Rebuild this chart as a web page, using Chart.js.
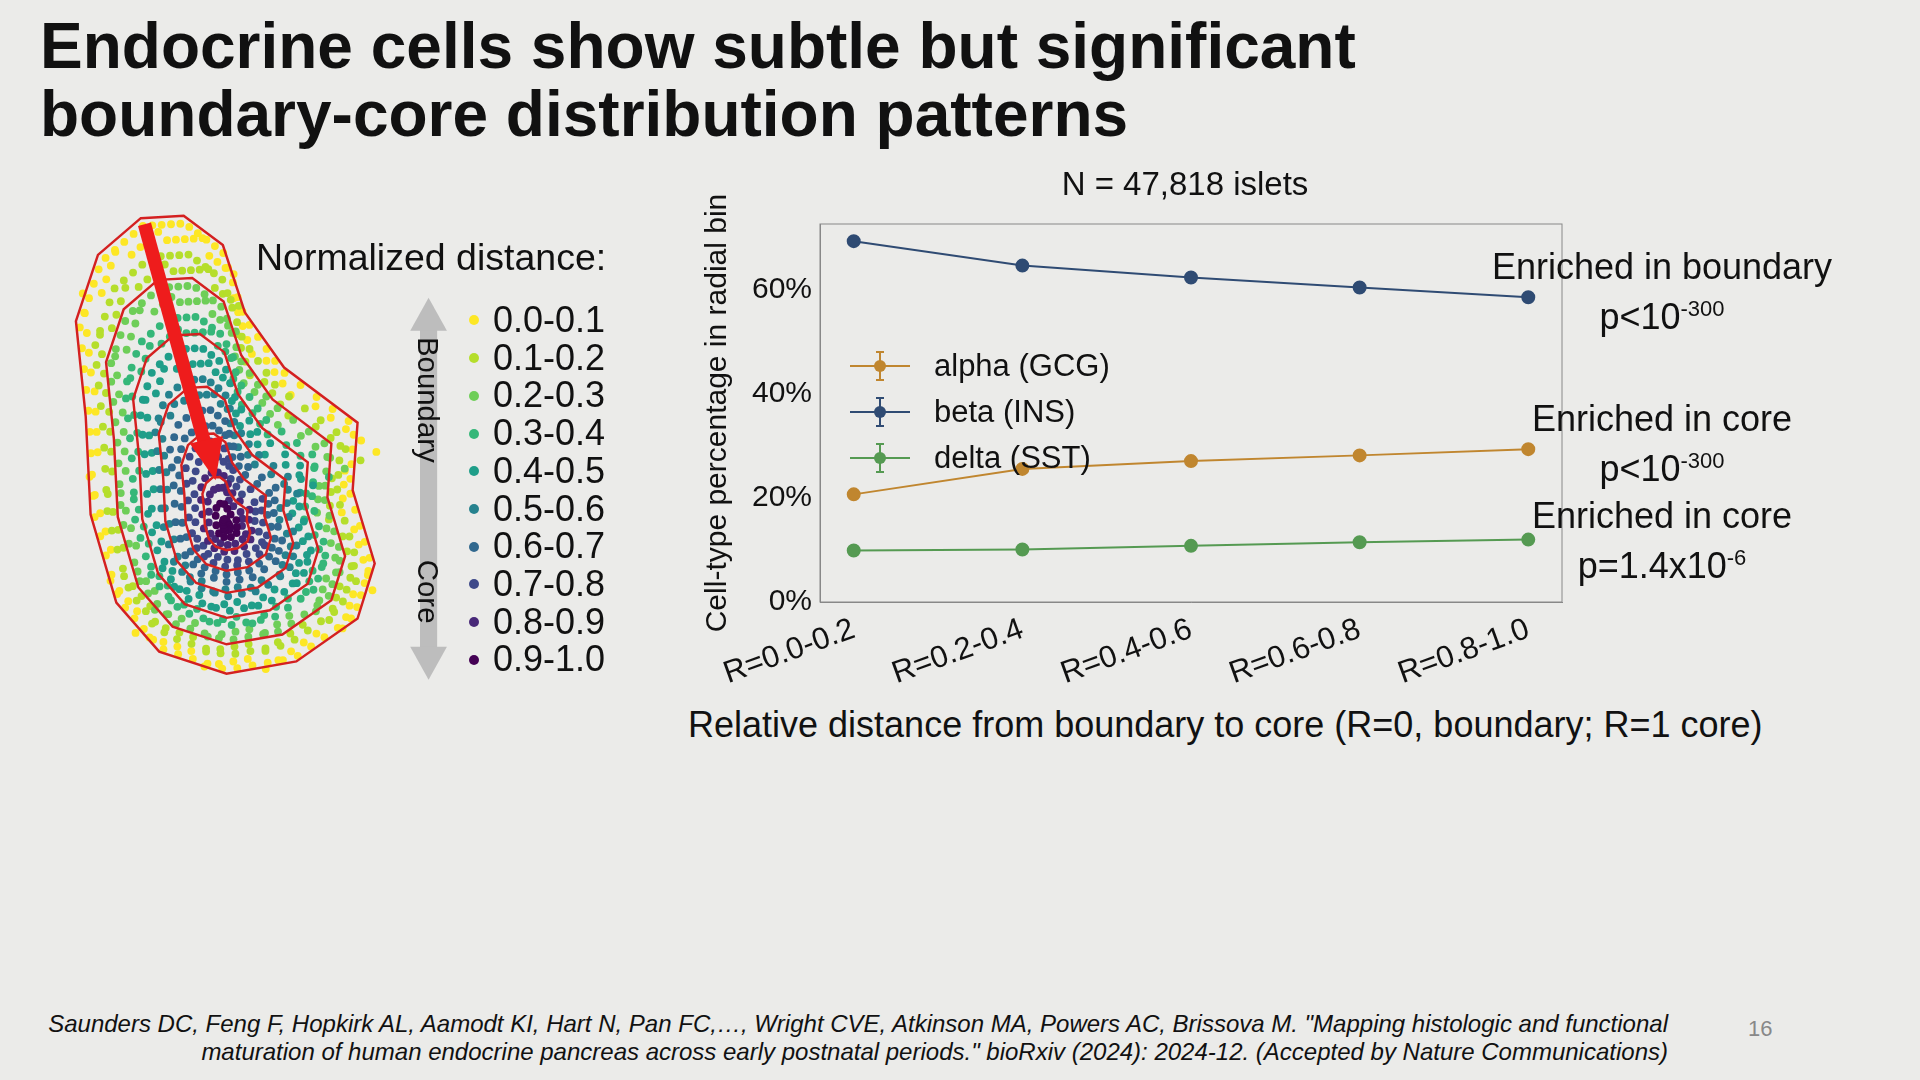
<!DOCTYPE html>
<html>
<head>
<meta charset="utf-8">
<script src="https://cdn.jsdelivr.net/npm/chart.js@4/dist/chart.umd.min.js"></script>
<style>
  body { margin: 0; width: 1920px; height: 1080px; background: #ebebe9; font-family: Arial, "Liberation Sans", sans-serif; color: #111; position: relative; overflow: hidden; }
  .abs { position: absolute; }
  h1 { position: absolute; left: 40px; top: 12px; margin: 0; font-size: 64px; line-height: 68px; font-weight: bold; }
  .ann { position: absolute; font-size: 36px; text-align: center; width: 400px; line-height: 42px; }
  .ann sup { font-size: 22px; }
  .leg { position: absolute; left: 850px; top: 343px; font-size: 31px; }
  .leg div { height: 46px; display: flex; align-items: center; }
  .leg canvas { margin-right: 24px; }
  .dist { position: absolute; left: 489px; font-size: 36px; line-height: 37.7px; }
  .foot { position: absolute; right: 252px; top: 1010px; font-size: 24px; font-style: italic; text-align: right; line-height: 28px; }
</style>
</head>
<body>
<h1>Endocrine cells show subtle but significant<br>boundary-core distribution patterns</h1>

<canvas id="islet" class="abs" width="480" height="700" style="left:0;top:190px"></canvas>
<div class="abs" style="left:256px;top:236px;font-size:37.5px">Normalized distance:</div>
<div id="dist" class="dist" style="top:301px"></div>

<div class="abs" style="left:0;top:165px;width:2370px;text-align:center;font-size:33px">N = 47,818 islets</div>
<div class="abs" style="left:700px;top:170px;width:870px;height:515px"><canvas id="chartDist"></canvas></div>
<div class="abs" style="left:688px;top:704px;font-size:36px">Relative distance from boundary to core (R=0, boundary; R=1 core)</div>
<div id="legend" class="leg"></div>

<div class="ann" style="left:1462px;top:246px">Enriched in boundary<br>p&lt;10<sup>-300</sup></div>
<div class="ann" style="left:1462px;top:398px">Enriched in core<br>p&lt;10<sup>-300</sup></div>
<div class="ann" style="left:1462px;top:495px">Enriched in core<br>p=1.4x10<sup>-6</sup></div>

<div class="foot">Saunders DC, Feng F, Hopkirk AL, Aamodt KI, Hart N, Pan FC,…, Wright CVE, Atkinson MA, Powers AC, Brissova M. "Mapping histologic and functional<br>maturation of human endocrine pancreas across early postnatal periods." bioRxiv (2024): 2024-12. (Accepted by Nature Communications)</div>
<div class="abs" style="left:1748px;top:1016px;font-size:22px;color:#888">16</div>

<script>
// chart data
const binLabels = ['R=0.0-0.2', 'R=0.2-0.4', 'R=0.4-0.6', 'R=0.6-0.8', 'R=0.8-1.0'];
const alphaPct = [20.7, 25.6, 27.1, 28.2, 29.4];
const betaPct = [69.4, 64.7, 62.4, 60.5, 58.6];
const deltaPct = [9.9, 10.1, 10.8, 11.5, 12.0];
const yTicks = [0, 20, 40, 60];

const distBins = ['0.0-0.1', '0.1-0.2', '0.2-0.3', '0.3-0.4', '0.4-0.5', '0.5-0.6', '0.6-0.7', '0.7-0.8', '0.8-0.9', '0.9-1.0'];
const viridis = ['#fde725', '#b5de2b', '#6ece58', '#35b779', '#1f9e89', '#26828e', '#31688e', '#3e4989', '#482878', '#440154'];

const seriesNames = ['alpha (GCG)', 'beta (INS)', 'delta (SST)'];
const seriesColors = ['#c0862f', '#2f4b73', '#559a52'];
const seriesData = [alphaPct, betaPct, deltaPct];

function toPoints(arr) { return arr.map((v, i) => ({ x: i, y: v })); }

function initChart() {
    const ctx = document.getElementById('chartDist');
    new Chart(ctx, {
        type: 'line',
        data: {
            datasets: seriesNames.map((name, k) => ({
                label: name,
                data: toPoints(seriesData[k]),
                borderColor: seriesColors[k],
                backgroundColor: seriesColors[k],
                borderWidth: 2,
                pointRadius: 6,
                pointHoverRadius: 6
            }))
        },
        options: {
            responsive: true,
            maintainAspectRatio: false,
            animation: false,
            layout: { padding: { top: 54, right: 8 } },
            plugins: { legend: { display: false }, tooltip: { enabled: false } },
            scales: {
                x: {
                    type: 'linear', min: -0.2, max: 4.2,
                    afterBuildTicks: s => { s.ticks = binLabels.map((_, i) => ({ value: i })); },
                    afterFit: s => { s.height = 83; },
                    grid: { display: false, drawTicks: true, tickLength: 6, tickColor: '#555' },
                    border: { color: '#888' },
                    ticks: { color: '#111', font: { size: 31 }, minRotation: 20, maxRotation: 20, callback: v => binLabels[v] }
                },
                y: {
                    min: 0, max: 72.7,
                    afterBuildTicks: s => { s.ticks = yTicks.map(v => ({ value: v })); },
                    afterFit: s => { s.width = 120; },
                    grid: { display: false, tickLength: 6, tickColor: '#555' },
                    border: { color: '#888' },
                    title: { display: true, text: 'Cell-type percentage in radial bin', color: '#111', font: { size: 30 }, padding: 0 },
                    ticks: { color: '#111', font: { size: 30 }, padding: 2, callback: v => v + '%' }
                }
            }
        },
        plugins: [{
            id: 'frame',
            afterDraw(c) {
                const a = c.chartArea, g = c.ctx;
                g.save(); g.strokeStyle = '#888'; g.lineWidth = 1;
                g.strokeRect(a.left, a.top, a.right - a.left, a.bottom - a.top);
                g.restore();
            }
        }]
    });
}

function initLegends() {
    const leg = document.getElementById('legend');
    seriesNames.forEach((name, k) => {
        const row = document.createElement('div');
        const c = document.createElement('canvas');
        c.width = 60; c.height = 40;
        const g = c.getContext('2d');
        g.strokeStyle = g.fillStyle = seriesColors[k]; g.lineWidth = 2;
        g.beginPath(); g.moveTo(0, 20); g.lineTo(60, 20); g.moveTo(30, 6); g.lineTo(30, 34);
        g.moveTo(26, 6); g.lineTo(34, 6); g.moveTo(26, 34); g.lineTo(34, 34); g.stroke();
        g.beginPath(); g.arc(30, 20, 6, 0, Math.PI * 2); g.fill();
        row.appendChild(c);
        row.appendChild(document.createTextNode(name));
        leg.appendChild(row);
    });
    const dist = document.getElementById('dist');
    distBins.forEach((b, i) => {
        const d = document.createElement('div');
        d.innerHTML = '<span style="display:inline-block;width:10px;height:10px;border-radius:5px;background:' + viridis[i] + ';margin:0 14px 4px -20px;vertical-align:middle"></span>' + b;
        dist.appendChild(d);
    });
}

// decorative islet sketch with grey boundary/core arrow
function drawIslet() {
    const c = document.getElementById('islet'), g = c.getContext('2d');
    const s = 1.2245;
    g.scale(s, s); g.translate(0, -155);
    const outline = [[115,178],[150,176],[182,200],[200,255],[232,300],[292,345],[288,400],[306,460],[292,505],[242,540],[185,550],[130,532],[95,492],[74,420],[70,340],[62,262],[80,208]];
    const cx = 185, cy = 430;
    for (let r = 0; r < 10; r++) {
        const f = 1 - r * 0.1;
        g.fillStyle = viridis[r];
        const n = Math.round(70 * f) + 6;
        for (let j = 0; j < n; j++) {
            const t = j / n * outline.length;
            const i0 = Math.floor(t), fr = t - i0;
            const p = outline[i0 % outline.length], q = outline[(i0 + 1) % outline.length];
            for (let d = 0; d < 2; d++) {
                const ff = f - 0.025 - d * 0.05;
                const x = cx + (p[0] + (q[0] - p[0]) * (fr + d * 0.5 / 1) * 1 - cx) * ff;
                const y = cy + (p[1] + (q[1] - p[1]) * (fr + d * 0.5) - cy) * ff;
                g.beginPath(); g.arc(x, y, 3.2, 0, Math.PI * 2); g.fill();
            }
        }
    }
    g.strokeStyle = '#d42020'; g.lineWidth = 2;
    [1, 0.8, 0.62, 0.45, 0.3, 0.16].forEach(f => {
        g.beginPath();
        outline.forEach((p, i) => {
            const x = cx + (p[0] - cx) * f, y = cy + (p[1] - cy) * f;
            i ? g.lineTo(x, y) : g.moveTo(x, y);
        });
        g.closePath(); g.stroke();
    });
    g.strokeStyle = '#ee1c1c'; g.lineWidth = 11;
    g.beginPath(); g.moveTo(118, 183); g.lineTo(168, 365); g.stroke();
    g.fillStyle = '#ee1c1c';
    g.beginPath(); g.moveTo(155, 362); g.lineTo(182, 356); g.lineTo(176, 392); g.fill();
    // grey arrow
    g.fillStyle = '#bdbdbd';
    g.fillRect(343, 268, 14, 262);
    g.beginPath(); g.moveTo(335, 270); g.lineTo(350, 243); g.lineTo(365, 270); g.fill();
    g.beginPath(); g.moveTo(335, 528); g.lineTo(350, 555); g.lineTo(365, 528); g.fill();
    g.fillStyle = '#111'; g.font = '24px Arial';
    g.save(); g.translate(341, 275); g.rotate(Math.PI / 2); g.fillText('Boundary', 0, 0); g.restore();
    g.save(); g.translate(341, 457); g.rotate(Math.PI / 2); g.fillText('Core', 0, 0); g.restore();
}

document.addEventListener('DOMContentLoaded', function() {
    initChart();
    initLegends();
    drawIslet();
});
</script>
</body>
</html>
